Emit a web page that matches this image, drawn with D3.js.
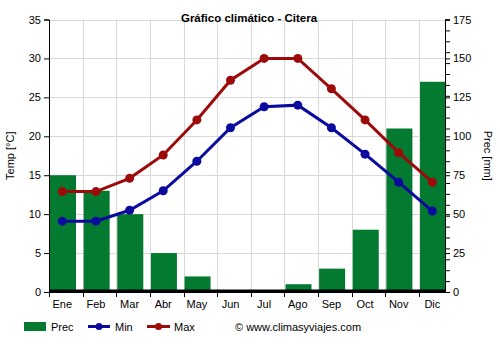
<!DOCTYPE html>
<html>
<head>
<meta charset="utf-8">
<script src="https://cdn.jsdelivr.net/npm/d3@7"></script>
<style>
html,body{margin:0;padding:0;background:#fff;}
svg{display:block;font-family:"Liberation Sans",Arial,sans-serif;}
</style>
</head>
<body>
<div id="chart"></div>
<script>
const months = ["Ene","Feb","Mar","Abr","May","Jun","Jul","Ago","Sep","Oct","Nov","Dic"];
const prec = [75, 65, 50, 25, 10, 0, 0, 5, 15, 40, 105, 135];
const tmin = [9.1, 9.1, 10.5, 13.0, 16.8, 21.1, 23.8, 24.0, 21.1, 17.7, 14.1, 10.4];
const tmax = [12.9, 12.9, 14.6, 17.6, 22.1, 27.2, 30.0, 30.0, 26.1, 22.1, 17.9, 14.1];
const tempTicks = [0, 5, 10, 15, 20, 25, 30, 35];
const precTicks = [0, 25, 50, 75, 100, 125, 150, 175];
const precMinorTicks = d3.range(0, 176, 7);

(function () {
const W = 500, H = 350;
const pL = 49, pR = 445, pT = 19.5, pB = 292;
const green = "#037a30", blue = "#0a0a9e", red = "#9c0a0a", grid = "#d9d9d9";

const svg = d3.select("#chart").append("svg").attr("width", W).attr("height", H);

const x = d3.scaleBand().domain(months).range([pL, pL + 33.64 * 12]).padding(0);
const yT = d3.scaleLinear().domain([0, 35]).range([pB, pT]);
const yP = d3.scaleLinear().domain([0, 175]).range([pB, pT]);

// grid
const g = svg.append("g");
g.selectAll(".hg").data(tempTicks.slice(1)).enter().append("line")
  .attr("x1", pL).attr("x2", pR)
  .attr("y1", d => Math.round(yT(d)) + 0.5).attr("y2", d => Math.round(yT(d)) + 0.5)
  .attr("stroke", grid).attr("stroke-width", 1);
g.selectAll(".vg").data(months.slice(1)).enter().append("line")
  .attr("x1", d => Math.round(x(d)) + 0.5).attr("x2", d => Math.round(x(d)) + 0.5)
  .attr("y1", pT).attr("y2", pB)
  .attr("stroke", grid).attr("stroke-width", 1);

// bars
svg.append("g").selectAll("rect").data(prec).enter().append("rect")
  .attr("x", (d, i) => x(months[i]) + 1)
  .attr("width", 26)
  .attr("y", d => yP(d))
  .attr("height", d => pB - yP(d))
  .attr("fill", green);

// thick baseline
svg.append("line").attr("x1", pL).attr("x2", pR)
  .attr("y1", 291).attr("y2", 291).attr("stroke", "#000").attr("stroke-width", 3);

// axes
const axL = svg.append("g").attr("transform", `translate(${pL},0)`)
  .call(d3.axisLeft(yT).tickValues(tempTicks).tickSize(5).tickPadding(3));
const axR = svg.append("g").attr("transform", `translate(${pR},0)`)
  .call(d3.axisRight(yP).tickValues(precTicks).tickSize(5).tickPadding(3));
const axRm = svg.append("g").attr("transform", `translate(${pR},0)`)
  .call(d3.axisRight(yP).tickValues(precMinorTicks).tickSize(5).tickFormat(""));
axRm.select(".domain").remove();
axRm.selectAll("line").attr("stroke", "#000");
const axB = svg.append("g").attr("transform", `translate(0,${pB})`)
  .call(d3.axisBottom(x).tickSize(0).tickPadding(8));
// bottom boundary ticks
svg.append("g").selectAll("line").data(months).enter().append("line")
  .attr("x1", d => Math.round(x(d)) + 0.5).attr("x2", d => Math.round(x(d)) + 0.5)
  .attr("y1", pB).attr("y2", pB + 5).attr("stroke", "#000");
svg.append("line").attr("x1", pL).attr("x2", pR).attr("y1", pB + 0.5).attr("y2", pB + 0.5).attr("stroke", "#000");

[axL, axR, axB].forEach(a => {
  a.selectAll("text").attr("font-size", 11).attr("fill", "#000").attr("font-family", "'Liberation Sans', Arial, sans-serif");
  a.selectAll("line").attr("stroke", "#000");
  a.select(".domain").attr("stroke", "#000");
});
axB.selectAll(".tick").attr("transform", d => `translate(${x(d) + 13.3},0)`);
axB.select(".domain").remove();

// lines
const lineGen = d3.line().x((d, i) => x(months[i]) + 13.3).y(d => yT(d));
function series(data, color) {
  svg.append("path").datum(data).attr("d", lineGen)
    .attr("fill", "none").attr("stroke", color).attr("stroke-width", 3);
  svg.append("g").selectAll("circle").data(data).enter().append("circle")
    .attr("cx", (d, i) => x(months[i]) + 13.3).attr("cy", d => yT(d))
    .attr("r", 4.5).attr("fill", color);
}
series(tmin, blue);
series(tmax, red);

// title
svg.append("text").attr("x", 249).attr("y", 22).attr("text-anchor", "middle")
  .attr("font-size", 11.5).attr("font-weight", "bold").text("Gráfico climático - Citera");

// axis titles
svg.append("text").attr("transform", `translate(14,${(pT + pB) / 2}) rotate(-90)`)
  .attr("text-anchor", "middle").attr("font-size", 11).text("Temp [°C]");
svg.append("text").attr("transform", `translate(484,${(pT + pB) / 2}) rotate(90)`)
  .attr("text-anchor", "middle").attr("font-size", 11).text("Prec [mm]");

// legend
const lg = svg.append("g");
lg.append("rect").attr("x", 24).attr("y", 322).attr("width", 22).attr("height", 9).attr("fill", green);
lg.append("text").attr("x", 51).attr("y", 331).attr("font-size", 11).text("Prec");
lg.append("line").attr("x1", 88).attr("x2", 110).attr("y1", 326.5).attr("y2", 326.5).attr("stroke", blue).attr("stroke-width", 3);
lg.append("circle").attr("cx", 99).attr("cy", 326.5).attr("r", 3.5).attr("fill", blue);
lg.append("text").attr("x", 115).attr("y", 331).attr("font-size", 11).text("Min");
lg.append("line").attr("x1", 147).attr("x2", 170).attr("y1", 326.5).attr("y2", 326.5).attr("stroke", red).attr("stroke-width", 3);
lg.append("circle").attr("cx", 158.5).attr("cy", 326.5).attr("r", 3.5).attr("fill", red);
lg.append("text").attr("x", 174).attr("y", 331).attr("font-size", 11).text("Max");
lg.append("text").attr("x", 235).attr("y", 331).attr("font-size", 11).text("© www.climasyviajes.com");
})();
</script>
</body>
</html>
